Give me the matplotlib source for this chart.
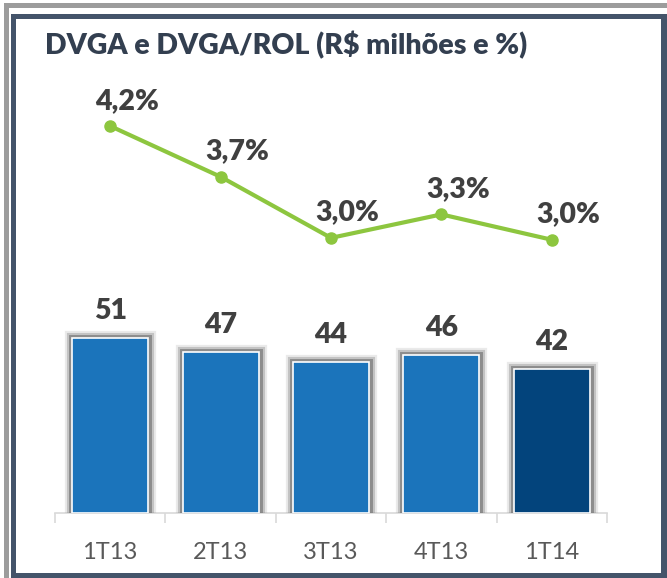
import matplotlib
matplotlib.use("Agg")
import matplotlib.pyplot as plt
import matplotlib.patheffects as pe
from matplotlib.patches import Rectangle

# data
quarters = ["1T13", "2T13", "3T13", "4T13", "1T14"]
dvga = [51, 47, 44, 46, 42]
dvga_rol = [4.2, 3.66, 3.01, 3.26, 2.99]
bar_colors = ["#1B74BB", "#1B74BB", "#1B74BB", "#1B74BB", "#03447C"]

plt.rcParams["font.family"] = ["Lato", "DejaVu Sans"]

W, H = 667, 578
fig = plt.figure(figsize=(W / 100, H / 100), dpi=100)

# frame: grey offset band plus dark slate border
def frame_rect(x0, y0, w, h, color):
    fig.patches.append(Rectangle((x0 / W, y0 / H), w / W, h / H,
                                 transform=fig.transFigure, facecolor=color,
                                 edgecolor="none", zorder=-10))

frame_rect(4, 0, W, H - 3, "#9C9C9C")
frame_rect(9, 0, W, H - 8, "white")
frame_rect(11, 0, W, H - 14, "#44546A")
frame_rect(16, 5, 661 - 16, H - 19 - 5, "white")

fig.text(45 / W, 1 - 54 / H, "DVGA e DVGA/ROL (R$ milhões e %)", fontsize=20.5,
         fontweight="heavy", color="#333F50", va="baseline", ha="left")

left, right = 55 / W, 607 / W
bottom, top = 65 / H, 478 / H
ax = fig.add_axes([left, bottom, right - left, top - bottom])
ax.patch.set_alpha(0)

x = list(range(len(quarters)))
bars = ax.bar(x, dvga, width=0.69, color=bar_colors, edgecolor="white",
              linewidth=1.2, zorder=3)
for b in bars:
    b.set_path_effects([
        pe.Stroke(linewidth=11, foreground="#9a9a9a", alpha=0.2),
        pe.Stroke(linewidth=8, foreground="#8a8a8a", alpha=0.4),
        pe.Stroke(linewidth=5, foreground="#777777", alpha=0.7),
        pe.Normal(),
    ])
for xi, v in zip(x, dvga):
    ax.annotate(str(v), (xi, v), xytext=(0, 13.5), textcoords="offset points",
                ha="center", va="baseline", fontsize=20.5, fontweight="heavy",
                color="#404040")

ax.set_xlim(-0.5, len(quarters) - 0.5)
ax.set_ylim(0, 120.4)
ax.set_yticks([])
for s in ["top", "left", "right"]:
    ax.spines[s].set_visible(False)
ax.spines["bottom"].set_color("#D9D9D9")
ax.spines["bottom"].set_linewidth(1.2)
ax.set_xticks([i - 0.5 for i in range(len(quarters) + 1)])
ax.set_xticklabels([])
ax.tick_params(axis="x", which="major", length=7, color="#D9D9D9", width=1.2)
ax.set_xticks(x, minor=True)
ax.set_xticklabels(quarters, minor=True)
ax.tick_params(axis="x", which="minor", length=0, pad=21, labelsize=17,
               labelcolor="#595959")

ax2 = ax.twinx()
ax2.plot(x, dvga_rol, color="#8DC63F", linewidth=3, marker="o", markersize=8,
         zorder=4)
for xi, v in zip(x, dvga_rol):
    ax2.annotate(f"{v:.1f}".replace(".", ",") + "%", (xi, v), xytext=(12, 12.5),
                 textcoords="offset points", ha="center", va="baseline",
                 fontsize=20.5, fontweight="heavy", color="#404040")
ax2.set_ylim(0.083, 4.477)
ax2.set_yticks([])
for s in ax2.spines.values():
    s.set_visible(False)

fig.savefig("out.png", dpi=100)
